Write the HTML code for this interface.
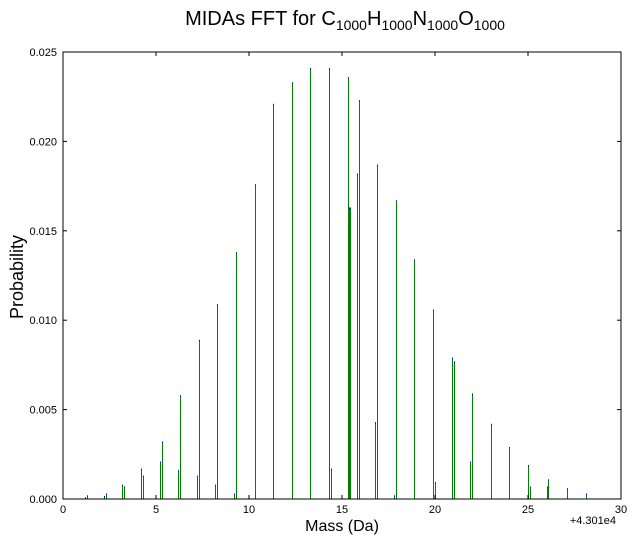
<!DOCTYPE html>
<html><head><meta charset="utf-8"><style>
body{margin:0;background:#fff;}
svg{font-family:"Liberation Sans",sans-serif;}
</style></head><body>
<svg id="chart" width="634" height="540" xmlns="http://www.w3.org/2000/svg">
<rect width="634" height="540" fill="#fff"/>
<text x="345" y="25" font-size="20" text-anchor="middle">MIDAs FFT for C<tspan font-size="14" dy="5">1000</tspan><tspan dy="-5">H</tspan><tspan font-size="14" dy="5">1000</tspan><tspan dy="-5">N</tspan><tspan font-size="14" dy="5">1000</tspan><tspan dy="-5">O</tspan><tspan font-size="14" dy="5">1000</tspan></text>
<text transform="translate(23,277) rotate(-90)" font-size="18" text-anchor="middle">Probability</text>
<text x="342" y="531" font-size="16" text-anchor="middle">Mass (Da)</text>
<text x="616" y="524" font-size="11" text-anchor="end">+4.301e4</text>
<g id="bars"></g>
<g id="axes"></g>
</svg>
<script>
const masses=[1.18,1.29,2.20,2.31,3.17,3.28,4.19,4.30,5.22,5.32,6.18,6.29,7.20,7.31,8.17,8.28,9.19,9.30,10.32,11.29,12.31,13.28,14.30,14.41,15.32,15.40,15.43,15.81,15.91,16.77,16.88,17.80,17.90,18.87,19.89,20.0,20.91,21.02,21.88,21.99,23.01,23.98,25.0,25.11,26.02,26.08,27.1,28.12];
const probs=[0.0001,0.0002,0.00017,0.0003,0.0008,0.0007,0.0017,0.0013,0.0021,0.0032,0.0016,0.0058,0.0013,0.0089,0.0008,0.0109,0.0003,0.0138,0.0176,0.0221,0.0233,0.0241,0.0241,0.0017,0.0236,0.0163,0.0163,0.0182,0.0223,0.0043,0.0187,0.0002,0.0167,0.0134,0.0106,0.00095,0.0079,0.0077,0.0021,0.0059,0.0042,0.0029,0.0019,0.0007,0.0007,0.0011,0.0006,0.0003];
const xTicks=[0,5,10,15,20,25,30];
const yTicks=[0,0.005,0.010,0.015,0.020,0.025];
const yLabels=["0.000","0.005","0.010","0.015","0.020","0.025"];
const L=63,R=621,T=52,B=499;
const xs=v=>L+(v/30)*(R-L);
const ys=v=>B-(v/0.025)*(B-T);
const NS="http://www.w3.org/2000/svg";
const bars=document.getElementById('bars'),axes=document.getElementById('axes');
function mk(tag,attrs,parent){const e=document.createElementNS(NS,tag);for(const k in attrs)e.setAttribute(k,attrs[k]);parent.appendChild(e);return e;}
masses.forEach((m,i)=>{
 const x=Math.round(xs(m))+0.5,y=ys(probs[i]);
 const l=mk('line',{x1:x,x2:x,y1:B,y2:y,stroke:'#008000','stroke-width':1},bars);
 
 
 const t=mk('line',{x1:x,x2:x,y1:y,y2:y+1.2,stroke:'#0000ff','stroke-width':1},bars);
 
 
});
const fr=mk('rect',{x:L,y:T,width:R-L,height:B-T,fill:'none',stroke:'#000','stroke-width':1},axes);


xTicks.forEach(v=>{
 const x=xs(v);
 mk('line',{x1:x,x2:x,y1:B,y2:B-4,stroke:'#000'},axes);
 mk('line',{x1:x,x2:x,y1:T,y2:T+4,stroke:'#000'},axes);
 const t=mk('text',{x:x,y:B+14,'font-size':11,'text-anchor':'middle'},axes);
 t.textContent=v;
 
 
});
yTicks.forEach((v,i)=>{
 const y=ys(v);
 mk('line',{x1:L,x2:L+4,y1:y,y2:y,stroke:'#000'},axes);
 mk('line',{x1:R,x2:R-4,y1:y,y2:y,stroke:'#000'},axes);
 const t=mk('text',{x:L-6,y:y+4,'font-size':11,'text-anchor':'end'},axes);
 t.textContent=yLabels[i];
 
 
});
</script>
</body></html>
